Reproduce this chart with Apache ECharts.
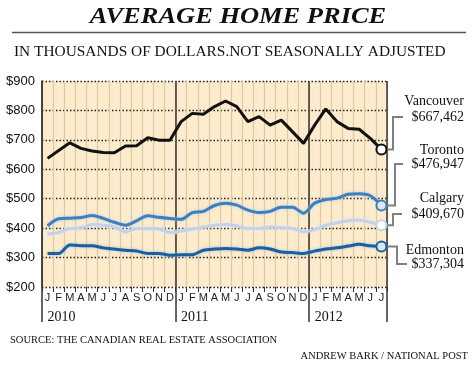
<!DOCTYPE html>
<html>
<head>
<meta charset="utf-8">
<script src="https://cdn.jsdelivr.net/npm/echarts@6/dist/echarts.min.js"></script>
<style>
html,body{margin:0;padding:0;background:#fff;}
#chart{width:475px;height:368px;}
</style>
</head>
<body>
<div id="chart"></div>
<script>
// ---- data ----
var monthNames = ['Jan','Feb','Mar','Apr','May','Jun','Jul','Aug','Sep','Oct','Nov','Dec'];
var categories = [];
for (var yr = 2010; yr <= 2012; yr++) {
  for (var m = 0; m < 12; m++) {
    if (yr === 2012 && m > 6) break;
    categories.push(monthNames[m] + ' ' + yr);
  }
}
var yearLabels = ['2010', '2011', '2012'];
var yTicks = [200, 300, 400, 500, 600, 700, 800, 900];

var cityNames = ['Vancouver', 'Toronto', 'Calgary', 'Edmonton'];
var vancouver = [637, 664, 690, 671, 662, 657, 656, 679, 680, 707, 699, 699,
                 762, 790, 787, 813, 832, 813, 762, 779, 750, 767, 728, 688,
                 750, 805, 762, 739, 736, 705, 667.462];
var toronto   = [408, 432, 434, 436, 443, 433, 420, 410, 425, 442, 437, 433,
                 430, 453, 457, 477, 485, 478, 461, 453, 457, 471, 471, 451,
                 485, 497, 502, 515, 517, 510, 476.947];
var calgary   = [380, 385, 399, 401, 412, 410, 404, 387, 399, 399, 397, 385,
                 390, 397, 404, 410, 412, 408, 399, 399, 404, 402, 399, 388,
                 395, 410, 418, 425, 428, 420, 409.670];
var edmonton  = [314, 314, 343, 340, 340, 333, 329, 325, 322, 314, 314, 308,
                 310, 310, 325, 329, 331, 329, 325, 333, 329, 319, 317, 314,
                 322, 329, 333, 339, 345, 340, 337.304];

var titleText = 'AVERAGE HOME PRICE';
var subtitleText = 'IN THOUSANDS OF DOLLARS.NOT SEASONALLY ADJUSTED';
var sourceText = 'SOURCE: THE CANADIAN REAL ESTATE ASSOCIATION';
var creditText = 'ANDREW BARK / NATIONAL POST';

// ---- chart ----
var chart = echarts.init(document.getElementById('chart'));
var lastIdx = categories.length - 1;
var SERIF = '"Liberation Serif", "Times New Roman", serif';
var SANS = '"Liberation Sans", Arial, sans-serif';

function endSymbolSize(val, params) { return params.dataIndex === lastIdx ? 10 : 0; }

function mkSeries(name, data, color, fill, width, smooth, halo) {
  var ls = { color: color, width: width };
  if (halo) { ls.shadowColor = halo; ls.shadowBlur = 3; }
  return {
    name: name, type: 'line', data: data, smooth: smooth,
    symbol: 'circle', symbolSize: endSymbolSize, showAllSymbol: true,
    lineStyle: ls,
    itemStyle: { color: fill, borderColor: color, borderWidth: 2 },
    emphasis: { disabled: true },
    animation: false, z: 3
  };
}

var seriesColors = { Vancouver: '#111111', Toronto: '#3f7fbf', Calgary: '#c3d2e8', Edmonton: '#1c5f9e' };

var option = {
  animation: false,
  grid: { left: 42, right: 88, top: 81, height: 206, show: true, backgroundColor: '#fcebcc', borderWidth: 0 },
  xAxis: [{
    type: 'category', data: categories, boundaryGap: true,
    axisLine: { show: false },
    axisTick: { show: true, length: 5, interval: 0, lineStyle: { color: '#333', width: 1 } },
    axisLabel: { interval: 0, formatter: function (v) { return v.charAt(0); }, margin: 5,
                 fontFamily: SANS, fontSize: 11, color: '#222' },
    splitLine: { show: true, interval: 0, lineStyle: { color: '#dccaa6', width: 1.2 } }
  }, {
    type: 'category', data: categories, boundaryGap: true, position: 'bottom',
    axisLine: { show: false },
    axisTick: { show: true, length: 35, interval: function (i) { return i % 12 === 0; },
                lineStyle: { color: '#333', width: 1.5 } },
    axisLabel: { interval: function (i) { return i % 12 === 0; },
                 formatter: function (v, i) { return yearLabels[Math.floor(i / 12)]; },
                 align: 'left', margin: 23, fontFamily: SERIF, fontSize: 14, color: '#111' },
    splitLine: { show: true, interval: function (i) { return i % 12 === 0 && i > 0; },
                 lineStyle: { color: '#333', width: 1.5 } }
  }],
  yAxis: {
    type: 'value', min: yTicks[0], max: yTicks[yTicks.length - 1], interval: 100,
    axisLine: { show: true, lineStyle: { color: '#111', width: 1.5 } },
    axisTick: { show: false },
    axisLabel: { formatter: function (v) { return '$' + v; }, margin: 7,
                 fontFamily: SANS, fontSize: 13, color: '#111' },
    splitLine: { show: true, lineStyle: { color: '#222', width: 1.3, type: [1.5, 2] } }
  },
  series: [
    mkSeries('Calgary', calgary, seriesColors.Calgary, '#ffffff', 3, 0.3, 'rgba(225,235,248,0.9)'),
    mkSeries('Toronto', toronto, seriesColors.Toronto, '#dbe9f6', 3, 0.3, 'rgba(170,205,235,0.9)'),
    mkSeries('Edmonton', edmonton, seriesColors.Edmonton, '#dbe9f6', 3, 0.3, 'rgba(150,190,230,0.9)'),
    mkSeries('Vancouver', vancouver, seriesColors.Vancouver, '#ffffff', 3, false, null)
  ]
};
chart.setOption(option);

// ---- annotations (titles, leader lines and end labels) ----
function money(v) { return '$' + Math.round(v * 1000).toLocaleString('en-US'); }
var lastVals = { Vancouver: vancouver[lastIdx], Toronto: toronto[lastIdx], Calgary: calgary[lastIdx], Edmonton: edmonton[lastIdx] };
var labelLayout = {
  Vancouver: { nameY: 101, valY: 117, elbow: 393, end: 403 },
  Toronto:   { nameY: 150, valY: 164, elbow: 395, end: 403 },
  Calgary:   { nameY: 198, valY: 214, elbow: 393, end: 402 },
  Edmonton:  { nameY: 250, valY: 264, elbow: 397, end: 407 }
};

var graphics = [
  { type: 'text', x: 238, y: 17, scaleX: 1.15,
    style: { text: titleText, font: 'italic bold 23px ' + SERIF, fill: '#111', align: 'center', verticalAlign: 'middle' } },
  { type: 'line', shape: { x1: 12, y1: 32.5, x2: 466, y2: 32.5 }, style: { stroke: '#555', lineWidth: 1.5 } },
  { type: 'text', x: 14, y: 52, scaleX: 1.025,
    style: { text: subtitleText, font: '15px ' + SERIF, fill: '#111', align: 'left', verticalAlign: 'middle' } },
  { type: 'text', x: 10, y: 340,
    style: { text: sourceText, font: '10.5px ' + SERIF, fill: '#111', align: 'left', verticalAlign: 'middle' } },
  { type: 'text', x: 468, y: 356,
    style: { text: creditText, font: '10.5px ' + SERIF, fill: '#111', align: 'right', verticalAlign: 'middle' } }
];

var seriesIndexOf = { Calgary: 0, Toronto: 1, Edmonton: 2, Vancouver: 3 };
cityNames.forEach(function (c) {
  var p = chart.convertToPixel({ seriesIndex: seriesIndexOf[c] }, [lastIdx, lastVals[c]]);
  var L = labelLayout[c];
  graphics.push({ type: 'polyline', z: 1,
    shape: { points: [[p[0] + 5, p[1]], [L.elbow, p[1]], [L.elbow, L.valY], [L.end, L.valY]] },
    style: { stroke: '#808080', lineWidth: 2, fill: null } });
  graphics.push({ type: 'text', x: 464, y: L.nameY,
    style: { text: c, font: '14px ' + SERIF, fill: '#111', align: 'right', verticalAlign: 'middle' } });
  graphics.push({ type: 'text', x: 464, y: L.valY,
    style: { text: money(lastVals[c]), font: '14px ' + SERIF, fill: '#111', align: 'right', verticalAlign: 'middle' } });
});
chart.setOption({ graphic: graphics });
</script>
</body>
</html>
